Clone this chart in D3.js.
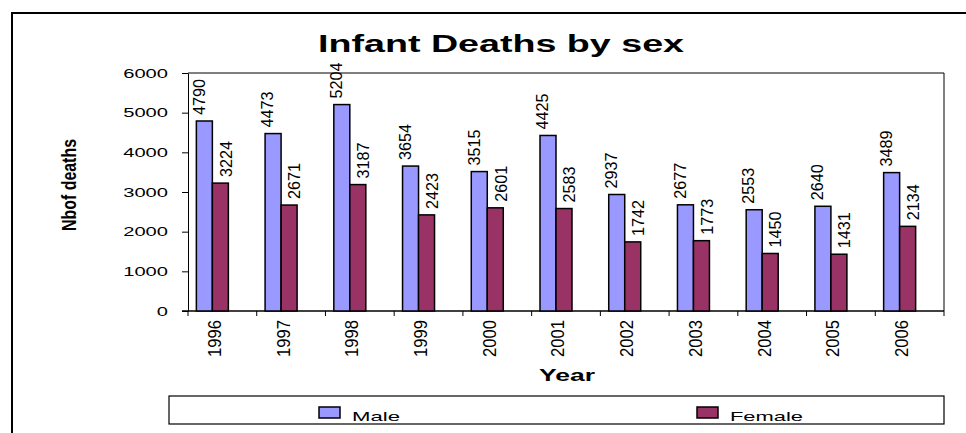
<!DOCTYPE html>
<html>
<head>
<meta charset="utf-8">
<script src="https://cdn.jsdelivr.net/npm/d3@7"></script>
<style>
    body { margin: 0; background: #fff; }
    svg { display: block; font-family: "Liberation Sans", Arial, sans-serif; }
</style>
</head>
<body>
<svg id="chart" width="966" height="433"></svg>
<script>

// data
var years = ["1996", "1997", "1998", "1999", "2000", "2001", "2002", "2003", "2004", "2005", "2006"];
var male = [4790, 4473, 5204, 3654, 3515, 4425, 2937, 2677, 2553, 2640, 3489];
var female = [3224, 2671, 3187, 2423, 2601, 2583, 1742, 1773, 1450, 1431, 2134];
var yTicks = [0, 1000, 2000, 3000, 4000, 5000, 6000];
var seriesNames = ["Male", "Female"];
var seriesColors = ["#9999ff", "#993366"];

var svg = d3.select("#chart");

var dims = {"left": 188, "right": 944, "top": 73, "bottom": 311, "barWidth": 16, "groupShift": -10};

var x = d3.scaleBand()
    .domain(years)
    .range([dims.left, dims.right])
    .padding(0);

var y = d3.scaleLinear()
    .domain([0, 6000])
    .range([dims.bottom, dims.top]);

// outer frame (runs off the page at right and bottom)
svg.append("rect")
    .attr("x", 12).attr("y", 13)
    .attr("width", 1000).attr("height", 500)
    .attr("fill", "none")
    .attr("stroke", "#000")
    .attr("stroke-width", 2);

// title
svg.append("text")
    .attr("x", 318).attr("y", 52)
    .attr("font-size", 23.5)
    .attr("font-weight", "bold")
    .attr("textLength", 366)
    .attr("lengthAdjust", "spacingAndGlyphs")
    .text("Infant Deaths by sex");

// plot frame top/right
svg.append("path")
    .attr("d", "M" + dims.left + "," + dims.top + "H" + dims.right + "V" + dims.bottom)
    .attr("fill", "none")
    .attr("stroke", "#000")
    .attr("stroke-width", 1);

// y axis
var yAxis = svg.append("g")
    .attr("transform", "translate(" + dims.left + ",0)")
    .call(d3.axisLeft(y).tickValues(yTicks).tickSize(6).tickSizeOuter(0).tickFormat(d3.format("d")));
yAxis.select(".domain").attr("stroke", "#000");
yAxis.selectAll(".tick line").attr("stroke", "#000");
yAxis.selectAll(".tick text")
    .attr("x", -20)
    .attr("dy", "0.36em")
    .attr("font-size", 12)
    .attr("font-family", "Liberation Sans, Arial, sans-serif")
    .attr("fill", "#000")
    .attr("textLength", function (d) { return String(d).length * 11.2; })
    .attr("lengthAdjust", "spacingAndGlyphs");

// x axis line + ticks between categories
svg.append("line")
    .attr("x1", dims.left - 6).attr("x2", dims.right)
    .attr("y1", dims.bottom).attr("y2", dims.bottom)
    .attr("stroke", "#000").attr("stroke-width", 1.3);

var bounds = years.map(function (d) { return x(d); }).concat([dims.right]);
svg.append("g").selectAll("line")
    .data(bounds)
    .enter().append("line")
    .attr("x1", function (d) { return d; })
    .attr("x2", function (d) { return d; })
    .attr("y1", dims.bottom)
    .attr("y2", dims.bottom + 5)
    .attr("stroke", "#000");

// bars
var groupCenter = function (i) {
    return x(years[i]) + x.bandwidth() / 2 + dims.groupShift;
};

var series = [male, female];

series.forEach(function (vals, s) {
    var g = svg.append("g");

    g.selectAll("rect")
        .data(vals)
        .enter().append("rect")
        .attr("x", function (d, i) { return groupCenter(i) + (s - 1) * dims.barWidth; })
        .attr("y", function (d) { return y(d); })
        .attr("width", dims.barWidth)
        .attr("height", function (d) { return y(0) - y(d); })
        .attr("fill", seriesColors[s])
        .attr("stroke", "#000")
        .attr("stroke-width", 1.5);

    // value labels, rotated
    var labelShift = s == 0 ? -6 : 5;
    g.selectAll("text")
        .data(vals)
        .enter().append("text")
        .attr("transform", function (d, i) {
            var cx = groupCenter(i) + (s - 0.5) * dims.barWidth + labelShift;
            return "translate(" + cx + "," + (y(d) - 6) + ") scale(1.45,1) rotate(-90)";
        })
        .attr("dy", "0.36em")
        .attr("font-size", 12)
        .attr("textLength", 36)
        .attr("lengthAdjust", "spacingAndGlyphs")
        .text(function (d) { return d; });
});

// year labels
svg.append("g").selectAll("text")
    .data(years)
    .enter().append("text")
    .attr("transform", function (d, i) {
        return "translate(" + (groupCenter(i) + 2) + ",320) scale(1.5,1) rotate(-90)";
    })
    .attr("text-anchor", "end")
    .attr("dy", "0.36em")
    .attr("font-size", 12)
    .attr("textLength", 37)
    .attr("lengthAdjust", "spacingAndGlyphs")
    .text(function (d) { return d; });

// axis titles
svg.append("text")
    .attr("x", 539).attr("y", 381)
    .attr("font-size", 16.5)
    .attr("font-weight", "bold")
    .attr("textLength", 56)
    .attr("lengthAdjust", "spacingAndGlyphs")
    .text("Year");

svg.append("text")
    .attr("transform", "translate(69,185) scale(1.5,1) rotate(-90)")
    .attr("text-anchor", "middle")
    .attr("dy", "0.36em")
    .attr("font-size", 13)
    .attr("font-weight", "bold")
    .attr("textLength", 92)
    .attr("lengthAdjust", "spacingAndGlyphs")
    .text("Nbof deaths");

// legend
var legend = svg.append("g");
legend.append("rect")
    .attr("x", 169).attr("y", 396)
    .attr("width", 775).attr("height", 28)
    .attr("fill", "#fff")
    .attr("stroke", "#000")
    .attr("stroke-width", 1.2);

var legendX = [319, 697];
var legendTextLen = [48, 73];

var items = legend.selectAll("g.item")
    .data(seriesNames)
    .enter().append("g")
    .attr("class", "item");

items.append("rect")
    .attr("x", function (d, i) { return legendX[i]; })
    .attr("y", 407)
    .attr("width", 21).attr("height", 11)
    .attr("fill", function (d, i) { return seriesColors[i]; })
    .attr("stroke", "#000")
    .attr("stroke-width", 1.5);

items.append("text")
    .attr("x", function (d, i) { return legendX[i] + 33; })
    .attr("y", 420.5)
    .attr("font-size", 13.5)
    .attr("textLength", function (d, i) { return legendTextLen[i]; })
    .attr("lengthAdjust", "spacingAndGlyphs")
    .text(function (d) { return d; });

</script>
</body>
</html>
